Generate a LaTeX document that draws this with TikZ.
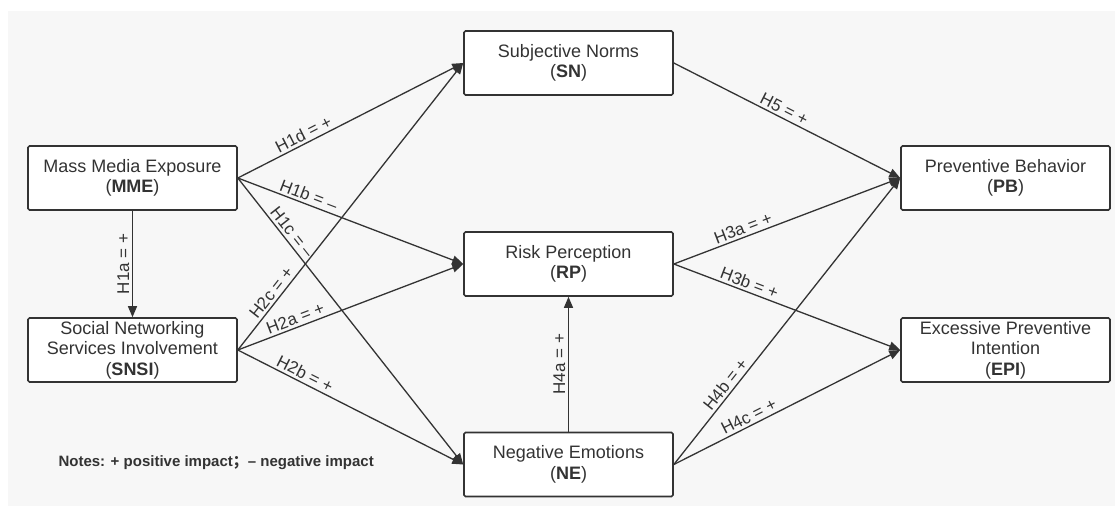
\documentclass[tikz,border=0pt]{standalone}
\usepackage{fontspec}
\setmainfont{Liberation Sans}
\newfontfamily\cjkfont{Noto Sans CJK SC}
\usetikzlibrary{arrows.meta}
\definecolor{ink}{HTML}{333333}
\definecolor{paper}{HTML}{F7F7F7}
\tikzset{
  box/.style={draw=ink, line width=1.6pt, rounded corners=1.5pt, fill=white, text=ink,
    minimum width=209pt, minimum height=64pt, inner sep=1pt, align=center,
    font=\fontsize{18}{20.5}\selectfont},
  link/.style={draw=ink, line width=1.3pt, -{Triangle[length=11pt,width=9pt]}},
  hyp/.style={text=ink, font=\fontsize{17}{19}\selectfont, inner sep=2.5pt}
}
\begin{document}
\begin{tikzpicture}[x=1pt,y=1pt]
  \useasboundingbox (0,0) rectangle (1115,507);
  \fill[white] (0,0) rectangle (1115,507);
  \fill[paper] (8,1) rectangle (1115,496);

  \node[box] (MME) at (132.5, 329) {Mass Media Exposure\\(\textbf{MME})};
  \node[box] (SNSI) at (132.5, 157) {Social Networking\\Services Involvement\\(\textbf{SNSI})};
  \node[box] (SN) at (568.5, 444) {Subjective Norms\\(\textbf{SN})};
  \node[box] (RP) at (568.5, 243) {Risk Perception\\(\textbf{RP})};
  \node[box] (NE) at (568.5, 42.5) {Negative Emotions\\(\textbf{NE})};
  \node[box] (PB) at (1005.5, 329) {Preventive Behavior\\(\textbf{PB})};
  \node[box] (EPI) at (1005.5, 157) {Excessive Preventive\\Intention\\(\textbf{EPI})};

  \node[anchor=west, text=ink, font=\fontsize{15}{18}\selectfont\bfseries] (notes) at (55, 44)
    {Notes: + positive impact{\cjkfont ；}– negative impact};

  \draw[link] (MME) -- node[hyp, rotate=90, above] {H1a = +} (SNSI);
  \draw[link] (MME.east) -- node[hyp, pos=0.31, sloped, above] {H1d = +} (SN.west);
  \draw[link] (MME.east) -- node[hyp, pos=0.30, sloped, above] {H1b = --} (RP.west);
  \draw[link] (MME.east) -- node[hyp, pos=0.21, sloped, above] {H1c = --} (NE.west);
  \draw[link] (SNSI.east) -- node[hyp, pos=0.18, sloped, above] {H2c = +} (SN.west);
  \draw[link] (SNSI.east) -- node[hyp, pos=0.27, sloped, above] {H2a = +} (RP.west);
  \draw[link] (SNSI.east) -- node[hyp, pos=0.28, sloped, above] {H2b = +} (NE.west);
  \draw[link] (SN.east) -- node[hyp, pos=0.47, sloped, above] {H5 = +} (PB.west);
  \draw[link] (RP.east) -- node[hyp, pos=0.32, sloped, above] {H3a = +} (PB.west);
  \draw[link] (RP.east) -- node[hyp, pos=0.32, sloped, above] {H3b = +} (EPI.west);
  \draw[link] (NE) -- node[hyp, rotate=90, above] {H4a = +} (RP);
  \draw[link] (NE.east) -- node[hyp, pos=0.26, sloped, above] {H4b = +} (PB.west);
  \draw[link] (NE.east) -- node[hyp, pos=0.35, sloped, above] {H4c = +} (EPI.west);
\end{tikzpicture}
\end{document}
